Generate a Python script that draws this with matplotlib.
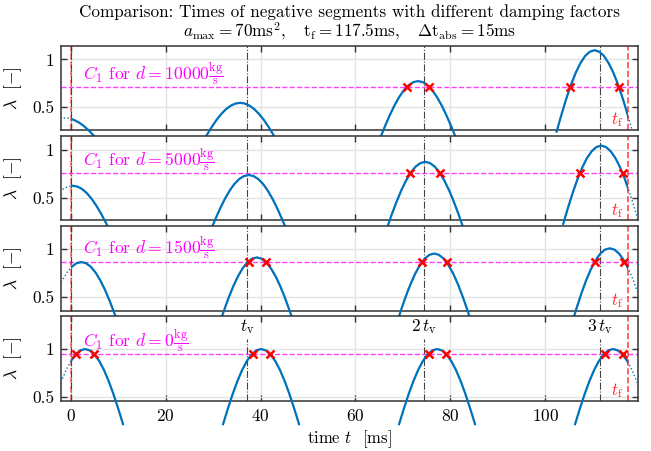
import numpy as np
import matplotlib
matplotlib.use('Agg')
import matplotlib.pyplot as plt
from matplotlib.patches import Rectangle

plt.rcParams.update({
    'font.family': 'serif',
    'font.serif': ['cmr10'],
    'mathtext.fontset': 'cm',
    'axes.formatter.use_mathtext': True,
    'font.size': 12,
})

# --- data --------------------------------------------------------------
t_f = 117.5
t_v = 37.2
x_range = (-2.0, 119.5)

d_values = [10000, 5000, 1500, 0]
C1_values = [0.71, 0.76, 0.87, 0.95]
y_ranges = [(0.25, 1.145), (0.26, 1.15), (0.354, 1.244), (0.458, 1.343)]

# sampling of each arc, ms relative to its peak
arc_offsets = np.arange(-8, 9)

peak_times = [
    [-1.3, 35.7, 73.2, 110.4],
    [0.4, 37.5, 74.7, 111.8],
    [2.2, 39.2, 76.6, 113.6],
    [3.0, 40.1, 77.2, 114.3],
]

lam_d10000 = [
    [0.081, 0.142, 0.200, 0.252, 0.296, 0.332, 0.358, 0.375, 0.380, 0.375, 0.358, 0.332, 0.296, 0.252, 0.200, 0.142, 0.081],
    [0.116, 0.202, 0.284, 0.358, 0.421, 0.472, 0.509, 0.532, 0.540, 0.532, 0.509, 0.472, 0.421, 0.358, 0.284, 0.202, 0.116],
    [0.165, 0.289, 0.405, 0.510, 0.600, 0.673, 0.726, 0.759, 0.770, 0.759, 0.726, 0.673, 0.600, 0.510, 0.405, 0.289, 0.165],
    [0.235, 0.411, 0.577, 0.726, 0.855, 0.958, 1.035, 1.081, 1.097, 1.081, 1.035, 0.958, 0.855, 0.726, 0.577, 0.411, 0.235],
]
lam_d5000 = [
    [0.134, 0.234, 0.329, 0.414, 0.487, 0.546, 0.590, 0.616, 0.625, 0.616, 0.590, 0.546, 0.487, 0.414, 0.329, 0.234, 0.134],
    [0.158, 0.277, 0.388, 0.489, 0.575, 0.645, 0.696, 0.727, 0.738, 0.727, 0.696, 0.645, 0.575, 0.489, 0.388, 0.277, 0.158],
    [0.188, 0.329, 0.461, 0.581, 0.683, 0.766, 0.827, 0.864, 0.877, 0.864, 0.827, 0.766, 0.683, 0.581, 0.461, 0.329, 0.188],
    [0.224, 0.393, 0.551, 0.694, 0.817, 0.916, 0.988, 1.033, 1.048, 1.033, 0.988, 0.916, 0.817, 0.694, 0.551, 0.393, 0.224],
]
lam_d1500 = [
    [0.185, 0.324, 0.455, 0.573, 0.674, 0.756, 0.816, 0.853, 0.865, 0.853, 0.816, 0.756, 0.674, 0.573, 0.455, 0.324, 0.185],
    [0.196, 0.342, 0.481, 0.605, 0.712, 0.798, 0.862, 0.901, 0.914, 0.901, 0.862, 0.798, 0.712, 0.605, 0.481, 0.342, 0.196],
    [0.204, 0.358, 0.502, 0.632, 0.744, 0.834, 0.901, 0.941, 0.955, 0.941, 0.901, 0.834, 0.744, 0.632, 0.502, 0.358, 0.204],
    [0.216, 0.378, 0.531, 0.669, 0.787, 0.882, 0.953, 0.996, 1.010, 0.996, 0.953, 0.882, 0.787, 0.669, 0.531, 0.378, 0.216],
]
lam_d0 = [
    [0.214, 0.375, 0.526, 0.662, 0.779, 0.874, 0.943, 0.986, 1.000, 0.986, 0.943, 0.874, 0.779, 0.662, 0.526, 0.375, 0.214],
    [0.214, 0.375, 0.526, 0.662, 0.779, 0.874, 0.943, 0.986, 1.000, 0.986, 0.943, 0.874, 0.779, 0.662, 0.526, 0.375, 0.214],
    [0.214, 0.375, 0.526, 0.662, 0.779, 0.874, 0.943, 0.986, 1.000, 0.986, 0.943, 0.874, 0.779, 0.662, 0.526, 0.375, 0.214],
    [0.214, 0.375, 0.526, 0.662, 0.779, 0.874, 0.943, 0.986, 1.000, 0.986, 0.943, 0.874, 0.779, 0.662, 0.526, 0.375, 0.214],
]
lam_arcs = [lam_d10000, lam_d5000, lam_d1500, lam_d0]

# times where lambda crosses C1 (red crosses)
cross_times = [
    [70.8, 75.5, 105.2, 115.5],
    [71.6, 77.8, 107.4, 116.4],
    [37.5, 41.1, 74.0, 79.2, 110.5, 116.7],
    [1.1, 4.9, 38.3, 42.0, 75.4, 79.1, 112.5, 116.3],
]

tv_labels = [r'$t_\mathrm{v}$', r'$2\,t_\mathrm{v}$', r'$3\,t_\mathrm{v}$']

# --- figure --------------------------------------------------------------
blue = '#0072BD'
magenta = '#FF00FF'
red = '#FF0000'
edge = '#333333'

fig = plt.figure(figsize=(6.51, 4.51), dpi=100)
ax_left, ax_width, ax_height = 0.0942, 0.8854, 0.1874
bottoms = [0.7113, 0.5113, 0.3113, 0.1113]

fig.text(0.537, 1 - 12 / 451, 'Comparison: Times of negative segments with different damping factors',
         ha='center', va='center', fontsize=12.3)
fig.text(0.537, 1 - 31 / 451,
         r'$a_\mathrm{max} = 70\mathrm{ms}^2,\quad \mathrm{t_f} = 117.5\mathrm{ms},\quad \Delta\mathrm{t_{abs}} = 15\mathrm{ms}$',
         ha='center', va='center', fontsize=12.3)

axes = []
for i in range(4):
    ax = fig.add_axes([ax_left, bottoms[i], ax_width, ax_height])
    axes.append(ax)
    ax.set_xlim(*x_range)
    ax.set_ylim(*y_ranges[i])
    ax.set_yticks([0.5, 1])
    ax.set_yticklabels(['0.5', '1'])
    ax.set_xticks([0, 20, 40, 60, 80, 100])
    if i < 3:
        ax.set_xticklabels([])
    ax.grid(True, color='#e3e3e3', linewidth=1.0, zorder=0)
    ax.set_axisbelow(True)
    ax.tick_params(direction='in', top=True, right=True, length=4, width=1,
                   color=edge, labelsize=12.5, pad=5)
    for sp in ax.spines.values():
        sp.set_color(edge)
        sp.set_linewidth(1.1)

    # period markers k * t_v
    for k in range(4):
        ymax = 0.73 if (i == 3 and k > 0) else 1.0
        ax.axvline(k * t_v, ymin=0, ymax=ymax, color='#444444', linestyle='-.',
                   linewidth=0.8, zorder=1)
    # start / end of flight
    ax.axvline(0, color=red, linestyle='--', linewidth=1.2, alpha=0.5, zorder=2)
    ax.axvline(t_f, color=red, linestyle='--', linewidth=1.2, alpha=0.7, zorder=2)
    ax.text(t_f - 2.3, y_ranges[i][0] + 0.12 * (y_ranges[i][1] - y_ranges[i][0]),
            r'$t_\mathrm{f}$', color=red, ha='center', va='center', fontsize=12, alpha=0.85)

    # C1 threshold
    ax.axhline(C1_values[i], color=magenta, linestyle='--', linewidth=1.0, alpha=0.75, zorder=2)
    ax.text(2.6, C1_values[i] + 0.14,
            r'$C_1$ for $d = %d\frac{\mathrm{kg}}{\mathrm{s}}$' % d_values[i],
            color=magenta, ha='left', va='center', fontsize=12.7)

    # lambda arcs: solid inside [0, t_f], dotted outside
    inside = Rectangle((0, -10), t_f, 20, transform=ax.transData)
    for tp, lam in zip(peak_times[i], lam_arcs[i]):
        t = tp + arc_offsets
        ax.plot(t, lam, color=blue, linestyle=':', linewidth=1.0, zorder=3)
        solid, = ax.plot(t, lam, color=blue, linewidth=1.6, zorder=4)
        solid.set_clip_path(inside)
    ax.plot(cross_times[i], [C1_values[i]] * len(cross_times[i]), linestyle='none',
            marker='x', color=red, markersize=5.5, markeredgewidth=1.8, zorder=5)

    ax.set_ylabel(r'$\lambda\ \ [-]$', fontsize=12.5, labelpad=4)

for k, lab in enumerate(tv_labels, start=1):
    axes[3].text(k * t_v, 0.875, lab, transform=axes[3].get_xaxis_transform(),
                 ha='center', va='center', fontsize=12.5)

axes[3].set_xlabel(r'time $t$  [ms]', fontsize=12, labelpad=3)
for ax in axes:
    ax.yaxis.set_label_coords(-0.064, 0.5)

fig.savefig('out.png', dpi=100)
